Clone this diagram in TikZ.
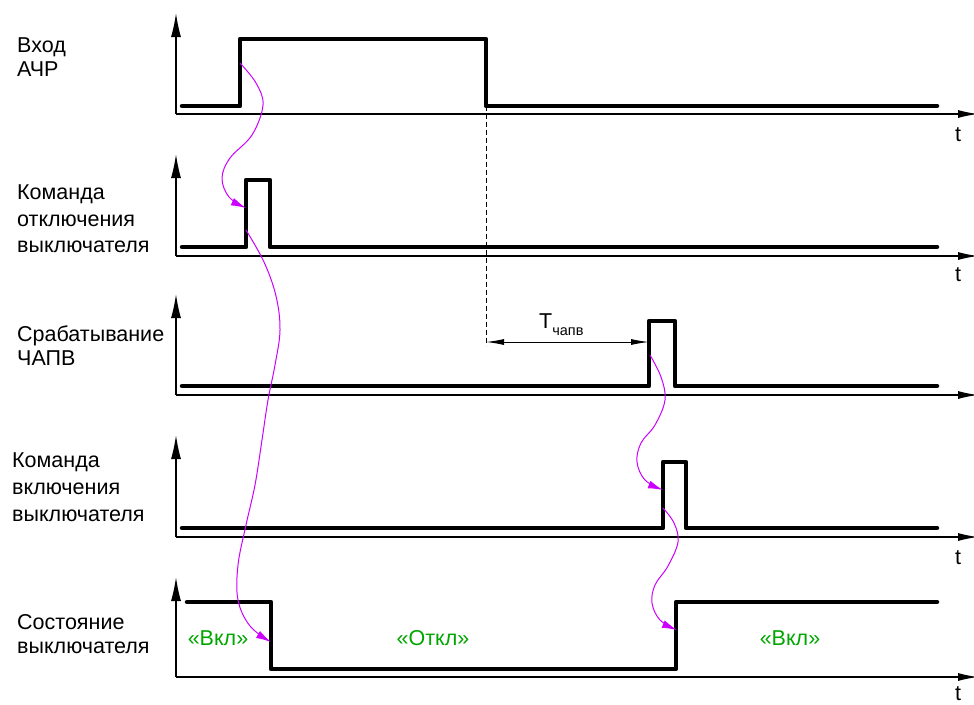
\documentclass[tikz,border=0pt]{standalone}
\usepackage{fontspec}
\setmainfont{Liberation Sans}
\usetikzlibrary{arrows.meta}
\definecolor{mag}{RGB}{204,0,255}
\definecolor{grn}{RGB}{0,165,0}
\begin{document}
\begin{tikzpicture}[x=1pt,y=-1pt,
  sig/.style={line width=4.5pt, line cap=round, line join=round},
  axisline/.style={line width=1.3pt},
  yarr/.style={axisline,-{Latex[length=24pt,width=10pt]}},
  xarr/.style={axisline,-{Latex[length=20pt,width=8pt]}},
  cause/.style={mag, line width=1pt, -{Latex[length=15pt,width=8pt]}},
  lbl/.style={font=\fontsize{21.5}{24}\selectfont, align=left, anchor=west, inner sep=0pt},
  tlbl/.style={font=\fontsize{21.5}{24}\selectfont, inner sep=0pt},
  state/.style={font=\fontsize{21.5}{24}\selectfont, text=grn, inner sep=0pt}]
\useasboundingbox (0,0) rectangle (974,704);
% axes
\foreach \ay/\top/\nm in {114/13/a, 256/154/b, 395/294/c, 537/435/d, 677/577/e}{
  \coordinate (o\nm) at (176,\ay);
  \coordinate (y\nm) at (176,\top);
  \coordinate (x\nm) at (978,\ay);
  \draw[yarr] (o\nm) -- (y\nm);
  \draw[xarr] (o\nm) -- (x\nm);
}
\node[tlbl] (t1) at (958,135) {t};
\node[tlbl] (t2) at (958,275) {t};
\node[tlbl] (t4) at (958,558) {t};
\node[tlbl] (t5) at (958,694) {t};
% signals
\draw[sig] (182,106) -- (240,106) -- (240,39) -- (486,39) -- (486,106) -- (937,106);
\draw[sig] (182,247) -- (246,247) -- (246,180) -- (270,180) -- (270,247) -- (937,247);
\draw[sig] (182,386) -- (649,386) -- (649,321) -- (675,321) -- (675,386) -- (937,386);
\draw[sig] (182,528) -- (663,528) -- (663,462) -- (686,462) -- (686,528) -- (937,528);
\draw[sig] (187,602) -- (271,602) -- (271,669) -- (676,669) -- (676,602) -- (937,602);
% labels
\node[lbl] (l1) at (17,57) {Вход\\АЧР};
\node[lbl, font=\fontsize{21.5}{26.5}\selectfont] (l2) at (17,219) {Команда\\отключения\\выключателя};
\node[lbl] (l3) at (17,346) {Срабатывание\\ЧАПВ};
\node[lbl, font=\fontsize{21.5}{27}\selectfont] (l4) at (12,487) {Команда\\включения\\выключателя};
\node[lbl] (l5) at (17,634) {Состояние\\выключателя};
% states
\node[state] (s1) at (218,638) {«Вкл»};
\node[state] (s2) at (433,638) {«Откл»};
\node[state] (s3) at (790,638) {«Вкл»};
% T_chapv
\coordinate (d1) at (486,106);
\coordinate (d2) at (486,346);
\coordinate (m1) at (486,342);
\coordinate (m2) at (649,342);
\draw[line width=0.8pt, dash pattern=on 5pt off 3pt] (d1) -- (d2);
\draw[line width=1pt, {Latex[length=18pt,width=6pt]}-{Latex[length=18pt,width=6pt]}] (m1) -- (m2);
\node[font=\fontsize{21.5}{24}\selectfont, inner sep=0pt, anchor=base west] (tl) at (539,328) {T\raisebox{-7pt}{\fontsize{14.5}{15}\selectfont чапв}};
% causal arrows
\draw[cause] plot[smooth, tension=0.6] coordinates {(240,63) (256,83) (263,105) (252,135) (230,158) (222,178) (229,197) (246,208)};
\draw[cause] plot[smooth, tension=0.6] coordinates {(246,230) (264,262) (276,296) (280,330) (275,365) (268,400) (262,440) (255,485) (246,525) (238,565) (238,600) (250,626) (271,642)};
\draw[cause] plot[smooth, tension=0.6] coordinates {(650,355) (661,377) (665,400) (655,425) (641,443) (637,462) (645,480) (663,490)};
\draw[cause] plot[smooth, tension=0.6] coordinates {(663,508) (674,523) (678,542) (668,566) (655,585) (652,603) (660,620) (677,630)};
\end{tikzpicture}
\end{document}
